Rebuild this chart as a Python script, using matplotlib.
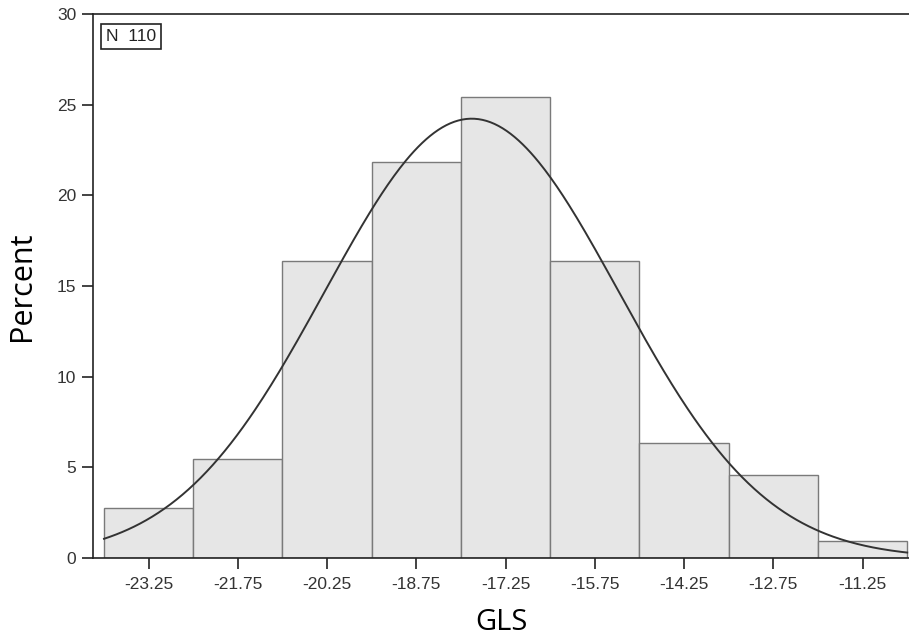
import numpy as np
import matplotlib.pyplot as plt

# Histogram of GLS (percent of N=110)
bin_centers = [-23.25, -21.75, -20.25, -18.75, -17.25, -15.75, -14.25, -12.75, -11.25]
percent = [2.73, 5.45, 16.36, 21.82, 25.45, 16.36, 6.36, 4.55, 0.91]
bin_width = 1.5
n_obs = 110

# fitted normal curve parameters
fit_mean = -17.82
fit_sd = 2.47

fig = plt.figure(figsize=(9.09, 6.41), dpi=100)
ax = fig.add_axes([93 / 909, 83 / 641, 816 / 909, 544 / 641])

ax.bar(bin_centers, percent, width=bin_width, color="#e6e6e6",
       edgecolor="#7a7a7a", linewidth=1.0, zorder=2)

xs = np.linspace(bin_centers[0] - bin_width / 2, bin_centers[-1] + bin_width / 2, 400)
ys = 100 * bin_width * np.exp(-0.5 * ((xs - fit_mean) / fit_sd) ** 2) / (fit_sd * np.sqrt(2 * np.pi))
ax.plot(xs, ys, color="#333333", linewidth=1.4, zorder=3)

ax.set_xlim(-24.185, -10.47)
ax.set_ylim(0, 30)
ax.set_xticks(bin_centers)
ax.set_xticklabels([f"{c:.2f}" for c in bin_centers])
ax.set_yticks([0, 5, 10, 15, 20, 25, 30])

for s in ["left", "top", "bottom"]:
    ax.spines[s].set_color("#222222")
    ax.spines[s].set_linewidth(1.2)
ax.spines["right"].set_visible(False)

ax.tick_params(axis="both", length=8, width=1.2, color="#222222",
               labelsize=12.5, labelcolor="#333333")
ax.tick_params(axis="x", pad=6)
ax.tick_params(axis="y", pad=4)
for lab in ax.get_xticklabels() + ax.get_yticklabels():
    lab.set_family("Liberation Sans")

ax.set_xlabel("GLS", fontsize=21, family="Open Sans", labelpad=11)
ax.set_ylabel("Percent", fontsize=22, family="Open Sans", labelpad=14)

ax.text(0.016, 0.972, f"N  {n_obs}", transform=ax.transAxes, ha="left", va="top",
        fontsize=12.5, family="Liberation Sans", color="#222222",
        bbox=dict(boxstyle="square,pad=0.3", facecolor="white", edgecolor="#222222", linewidth=1.2))

plt.savefig("out.png", dpi=100)
